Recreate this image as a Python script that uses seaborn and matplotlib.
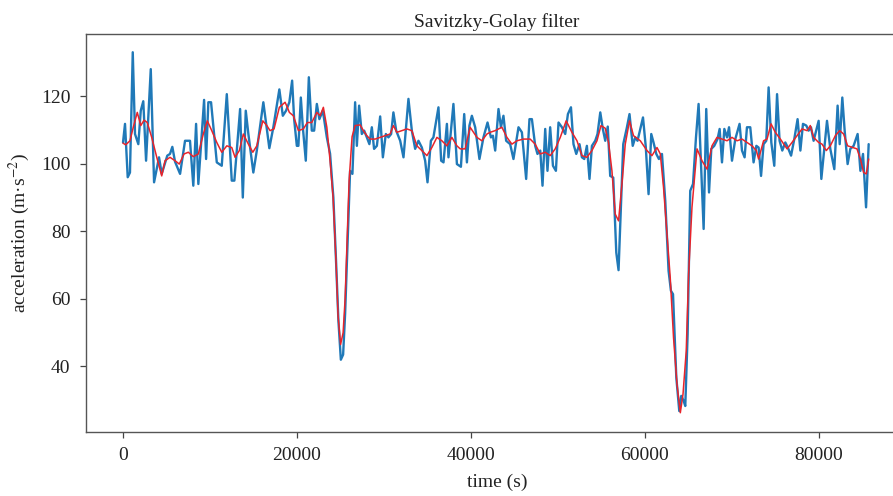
import numpy as np
import pandas as pd
import matplotlib
matplotlib.use("Agg")
import matplotlib.pyplot as plt
import seaborn as sns

# ---- data ----
raw_time = [0, 230, 540, 800, 1120, 1380, 1760, 2040, 2330, 2650, 3190, 3570, 4140, 4450,
            5090, 5400, 5670, 5980, 6560, 7130, 7700, 8080, 8400, 8660, 9320, 9550, 9810,
            10120, 10780, 11350, 11930, 12500, 12800, 13460, 13770, 14110, 14410, 14980,
            15380, 16130, 16820, 17280, 17970, 18370, 18740, 19120, 19440, 19670, 19980,
            20160, 20440, 20670, 21010, 21360, 21700, 21970, 22280, 22570, 22970, 23430,
            23800, 24180, 24500, 24760, 25040, 25300, 25530, 25790, 26100, 26370, 26680,
            26880, 27140, 27450, 27720, 28030, 28320, 28600, 28860, 29180, 29560, 29870,
            30210, 30510, 30820, 31080, 31400, 31860, 32240, 32810, 33200, 33580, 33960,
            34350, 34730, 35000, 35390, 35680, 36260, 36570, 36840, 37230, 37410, 37980,
            38380, 38840, 39220, 39530, 39820, 40100, 40480, 40970, 41430, 41900, 42290,
            42520, 42780, 43160, 43440, 43730, 44040, 44500, 44880, 45460, 45850, 46340,
            46720, 47000, 47380, 47640, 47960, 48220, 48530, 48790, 49100, 49420, 49760,
            50060, 50450, 50830, 51140, 51490, 51780, 52100, 52470, 52750, 53020, 53320,
            53620, 53900, 54280, 54540, 54860, 55140, 55430, 55720, 56000, 56350, 56700,
            56960, 57500, 57900, 58220, 58590, 58880, 59140, 59770, 60090, 60410, 60720,
            60980, 61300, 61600, 61950, 62330, 62710, 62980, 63220, 63600, 63940, 64170,
            64440, 64630, 64900, 65200, 65520, 65860, 66160, 66470, 66740, 67040, 67360,
            67620, 67960, 68340, 68580, 68850, 69120, 69430, 69660, 70000, 70380, 70870,
            71150, 71450, 71720, 72100, 72480, 72800, 73060, 73340, 73630, 73940, 74210,
            74520, 74860, 75180, 75470, 75780, 76130, 76420, 76790, 77160, 77540, 77860,
            78160, 78540, 78810, 79080, 79380, 79960, 80270, 80920, 81300, 81760, 82140,
            82380, 82680, 82950, 83290, 83600, 83980, 84440, 84760, 85060, 85410, 85710]
raw_accel = [106.3, 111.8, 96.0, 97.4, 133.0, 108.8, 105.8, 115.7, 118.5, 100.9, 128.0, 94.5,
             101.9, 97.0, 102.4, 102.9, 105.0, 100.6, 97.0, 106.8, 106.8, 93.5, 111.8, 94.0,
             118.9, 101.4, 118.2, 118.2, 100.4, 99.4, 120.6, 95.0, 95.0, 116.2, 90.0, 115.7,
             108.8, 97.4, 103.9, 118.2, 104.6, 110.8, 122.0, 114.2, 115.7, 118.2, 124.6,
             113.2, 105.3, 105.3, 119.6, 110.8, 100.9, 125.6, 109.8, 109.8, 117.7, 113.2,
             115.7, 107.8, 103.0, 90.0, 70.4, 53.5, 42.0, 43.5, 55.6, 75.2, 97.9, 97.0,
             118.2, 105.3, 117.2, 108.8, 109.8, 107.8, 105.8, 110.8, 104.4, 105.3, 114.0,
             101.9, 108.8, 107.8, 108.8, 115.2, 109.8, 106.8, 101.9, 119.2, 109.8, 104.4,
             106.8, 104.8, 100.9, 94.5, 106.8, 107.8, 116.7, 100.9, 100.4, 111.8, 101.9,
             117.7, 99.9, 99.1, 114.7, 100.4, 111.3, 114.2, 110.8, 101.4, 107.8, 112.2,
             107.8, 108.3, 103.9, 116.2, 110.8, 114.2, 106.8, 105.8, 101.4, 110.8, 109.3,
             95.5, 113.2, 113.2, 105.3, 102.9, 103.9, 93.5, 110.3, 97.9, 110.8, 99.4, 97.9,
             112.2, 110.8, 108.8, 114.7, 116.7, 105.8, 102.9, 105.8, 101.9, 101.4, 105.3,
             95.5, 105.3, 106.8, 108.8, 115.2, 110.5, 106.8, 111.0, 96.4, 95.9, 73.7, 68.5,
             105.8, 110.5, 114.7, 105.3, 107.8, 106.8, 113.7, 105.0, 91.0, 108.8, 106.3,
             102.9, 101.4, 102.9, 89.0, 68.3, 62.4, 61.4, 36.7, 26.8, 31.3, 29.8, 28.3,
             49.5, 92.0, 94.0, 107.8, 117.7, 97.9, 80.7, 116.2, 91.5, 104.4, 105.3, 107.3,
             110.3, 100.4, 110.3, 107.8, 110.8, 100.9, 107.3, 111.8, 103.9, 101.9, 110.8,
             110.8, 100.4, 105.3, 104.8, 96.4, 105.8, 106.8, 122.6, 106.3, 99.4, 120.6,
             106.8, 103.9, 106.3, 104.8, 102.4, 107.3, 113.2, 103.9, 111.8, 111.3, 109.8,
             110.8, 106.8, 112.7, 95.5, 112.7, 104.4, 98.4, 117.2, 105.8, 119.6, 109.8,
             99.9, 104.4, 105.3, 108.8, 97.9, 102.9, 87.1, 105.8]

smooth_time = [0, 310, 800, 1180, 1640, 2040, 2420, 2790, 3300, 3880, 4450, 4830, 5400, 5980,
               6470, 7020, 7510, 8080, 8660, 9230, 9690, 10200, 10780, 11350, 11930, 12500,
               12880, 13370, 13830, 14410, 14920, 15380, 16070, 16530, 16900, 17360, 17970,
               18630, 18890, 19120, 19580, 20160, 20730, 21190, 21700, 22280, 22660, 23030,
               23430, 23800, 24150, 24500, 24720, 25010, 25300, 25530, 25760, 25990, 26330,
               26680, 27260, 27630, 28030, 28400, 28980, 29560, 30130, 30700, 31080, 31480,
               32050, 32630, 33200, 33780, 34350, 34930, 35500, 36080, 36650, 37230, 37800,
               38380, 38760, 39330, 39900, 40680, 41250, 41830, 42200, 42780, 43550, 44130,
               44700, 45280, 46030, 46800, 47380, 47960, 48530, 49100, 49680, 50260, 50940,
               51600, 52180, 52750, 53320, 53900, 54480, 54940, 55430, 55810, 56200, 56580,
               56960, 57350, 57730, 58220, 58680, 59460, 60230, 60800, 61380, 61760, 62130,
               62530, 62900, 63280, 63680, 64060, 64370, 64740, 65010, 65400, 65980, 66550,
               67130, 67700, 68280, 68850, 69430, 70000, 70580, 71150, 71720, 72300, 72800,
               73060, 73630, 74030, 74490, 74980, 75560, 76330, 76900, 77480, 78050, 78630,
               79000, 79380, 79960, 80350, 80840, 81300, 81880, 82380, 82830, 83290, 83910,
               84370, 84760, 85130, 85440, 85710]
smooth_accel = [106.1, 105.6, 106.8, 110.8, 115.2, 111.3, 112.9, 112.2, 107.8, 101.9, 96.4,
                100.9, 101.9, 100.9, 99.9, 102.9, 103.4, 102.1, 102.9, 108.8, 112.7, 109.8,
                106.3, 103.4, 105.3, 104.8, 101.9, 103.9, 108.8, 105.8, 103.4, 105.3, 112.7,
                111.3, 109.8, 110.3, 116.7, 118.2, 116.7, 115.2, 114.2, 109.8, 110.3, 112.2,
                112.2, 115.2, 114.2, 116.7, 110.8, 100.9, 90.0, 70.0, 55.0, 46.5, 50.0, 60.0,
                78.0, 95.0, 108.0, 111.3, 111.5, 109.8, 108.3, 107.3, 107.3, 107.8, 108.3,
                108.8, 111.3, 109.3, 109.8, 110.3, 109.8, 105.3, 103.9, 102.4, 104.8, 107.8,
                106.8, 105.3, 107.8, 105.3, 104.4, 104.4, 110.8, 107.8, 106.8, 108.8, 109.3,
                109.8, 110.8, 107.8, 105.8, 106.8, 107.3, 107.3, 105.8, 102.9, 103.4, 102.4,
                104.4, 107.8, 112.7, 109.3, 106.8, 102.4, 101.9, 103.9, 106.8, 111.3, 110.5,
                106.3, 97.9, 85.1, 83.1, 94.0, 105.8, 112.7, 108.3, 106.8, 103.9, 102.4,
                104.8, 102.9, 93.0, 79.2, 66.3, 48.5, 34.7, 26.3, 31.8, 44.6, 67.3, 87.1,
                104.4, 100.9, 98.4, 105.3, 107.8, 107.3, 106.8, 107.8, 106.8, 107.3, 106.3,
                105.3, 103.9, 101.4, 106.8, 107.3, 111.8, 109.3, 107.3, 104.4, 106.3, 108.3,
                110.3, 109.8, 111.3, 107.8, 106.3, 105.8, 103.9, 105.3, 108.3, 109.8, 108.8,
                105.3, 104.8, 104.4, 101.4, 97.4, 97.0, 101.4]

xticks = [0, 20000, 40000, 60000, 80000]
yticks = [40, 60, 80, 100, 120]

raw_df = pd.DataFrame({"time": raw_time, "accel": raw_accel})
smooth_df = pd.DataFrame({"time": smooth_time, "accel": smooth_accel})

sns.set_style("white")
plt.rcParams["font.family"] = ["Liberation Serif", "DejaVu Serif"]
plt.rcParams["mathtext.fontset"] = "stix"

fig = plt.figure(figsize=(8.93, 4.96), dpi=100)
ax = fig.add_axes([85.6 / 893, 64 / 496, (908.6 - 85.6) / 893, (432 - 34) / 496])

sns.lineplot(data=raw_df, x="time", y="accel", ax=ax, color="#2079b8",
             linewidth=1.7, sort=False, estimator=None)
sns.lineplot(data=smooth_df, x="time", y="accel", ax=ax, color="#e8242b",
             linewidth=1.1, sort=False, estimator=None)

ax.set_xlim(-4300, 90300)
ax.set_ylim(20.6, 138.4)
ax.set_xticks(xticks)
ax.set_yticks(yticks)
ax.tick_params(axis="both", which="major", bottom=True, left=True, labelsize=14,
               direction="out", length=4, width=0.9, colors="#444444", pad=7)
for lab in ax.get_xticklabels() + ax.get_yticklabels():
    lab.set_color("#222222")
for s in ax.spines.values():
    s.set_color("#555555")
    s.set_linewidth(1.0)

ax.set_title("Savitzky-Golay filter", fontsize=14, color="#222222", pad=5)
ax.set_xlabel("time (s)", fontsize=14, color="#222222", labelpad=7)
ax.set_ylabel("acceleration (m·s$^{-2}$)", fontsize=14, color="#222222", labelpad=6)

fig.savefig("out.png", dpi=100)
